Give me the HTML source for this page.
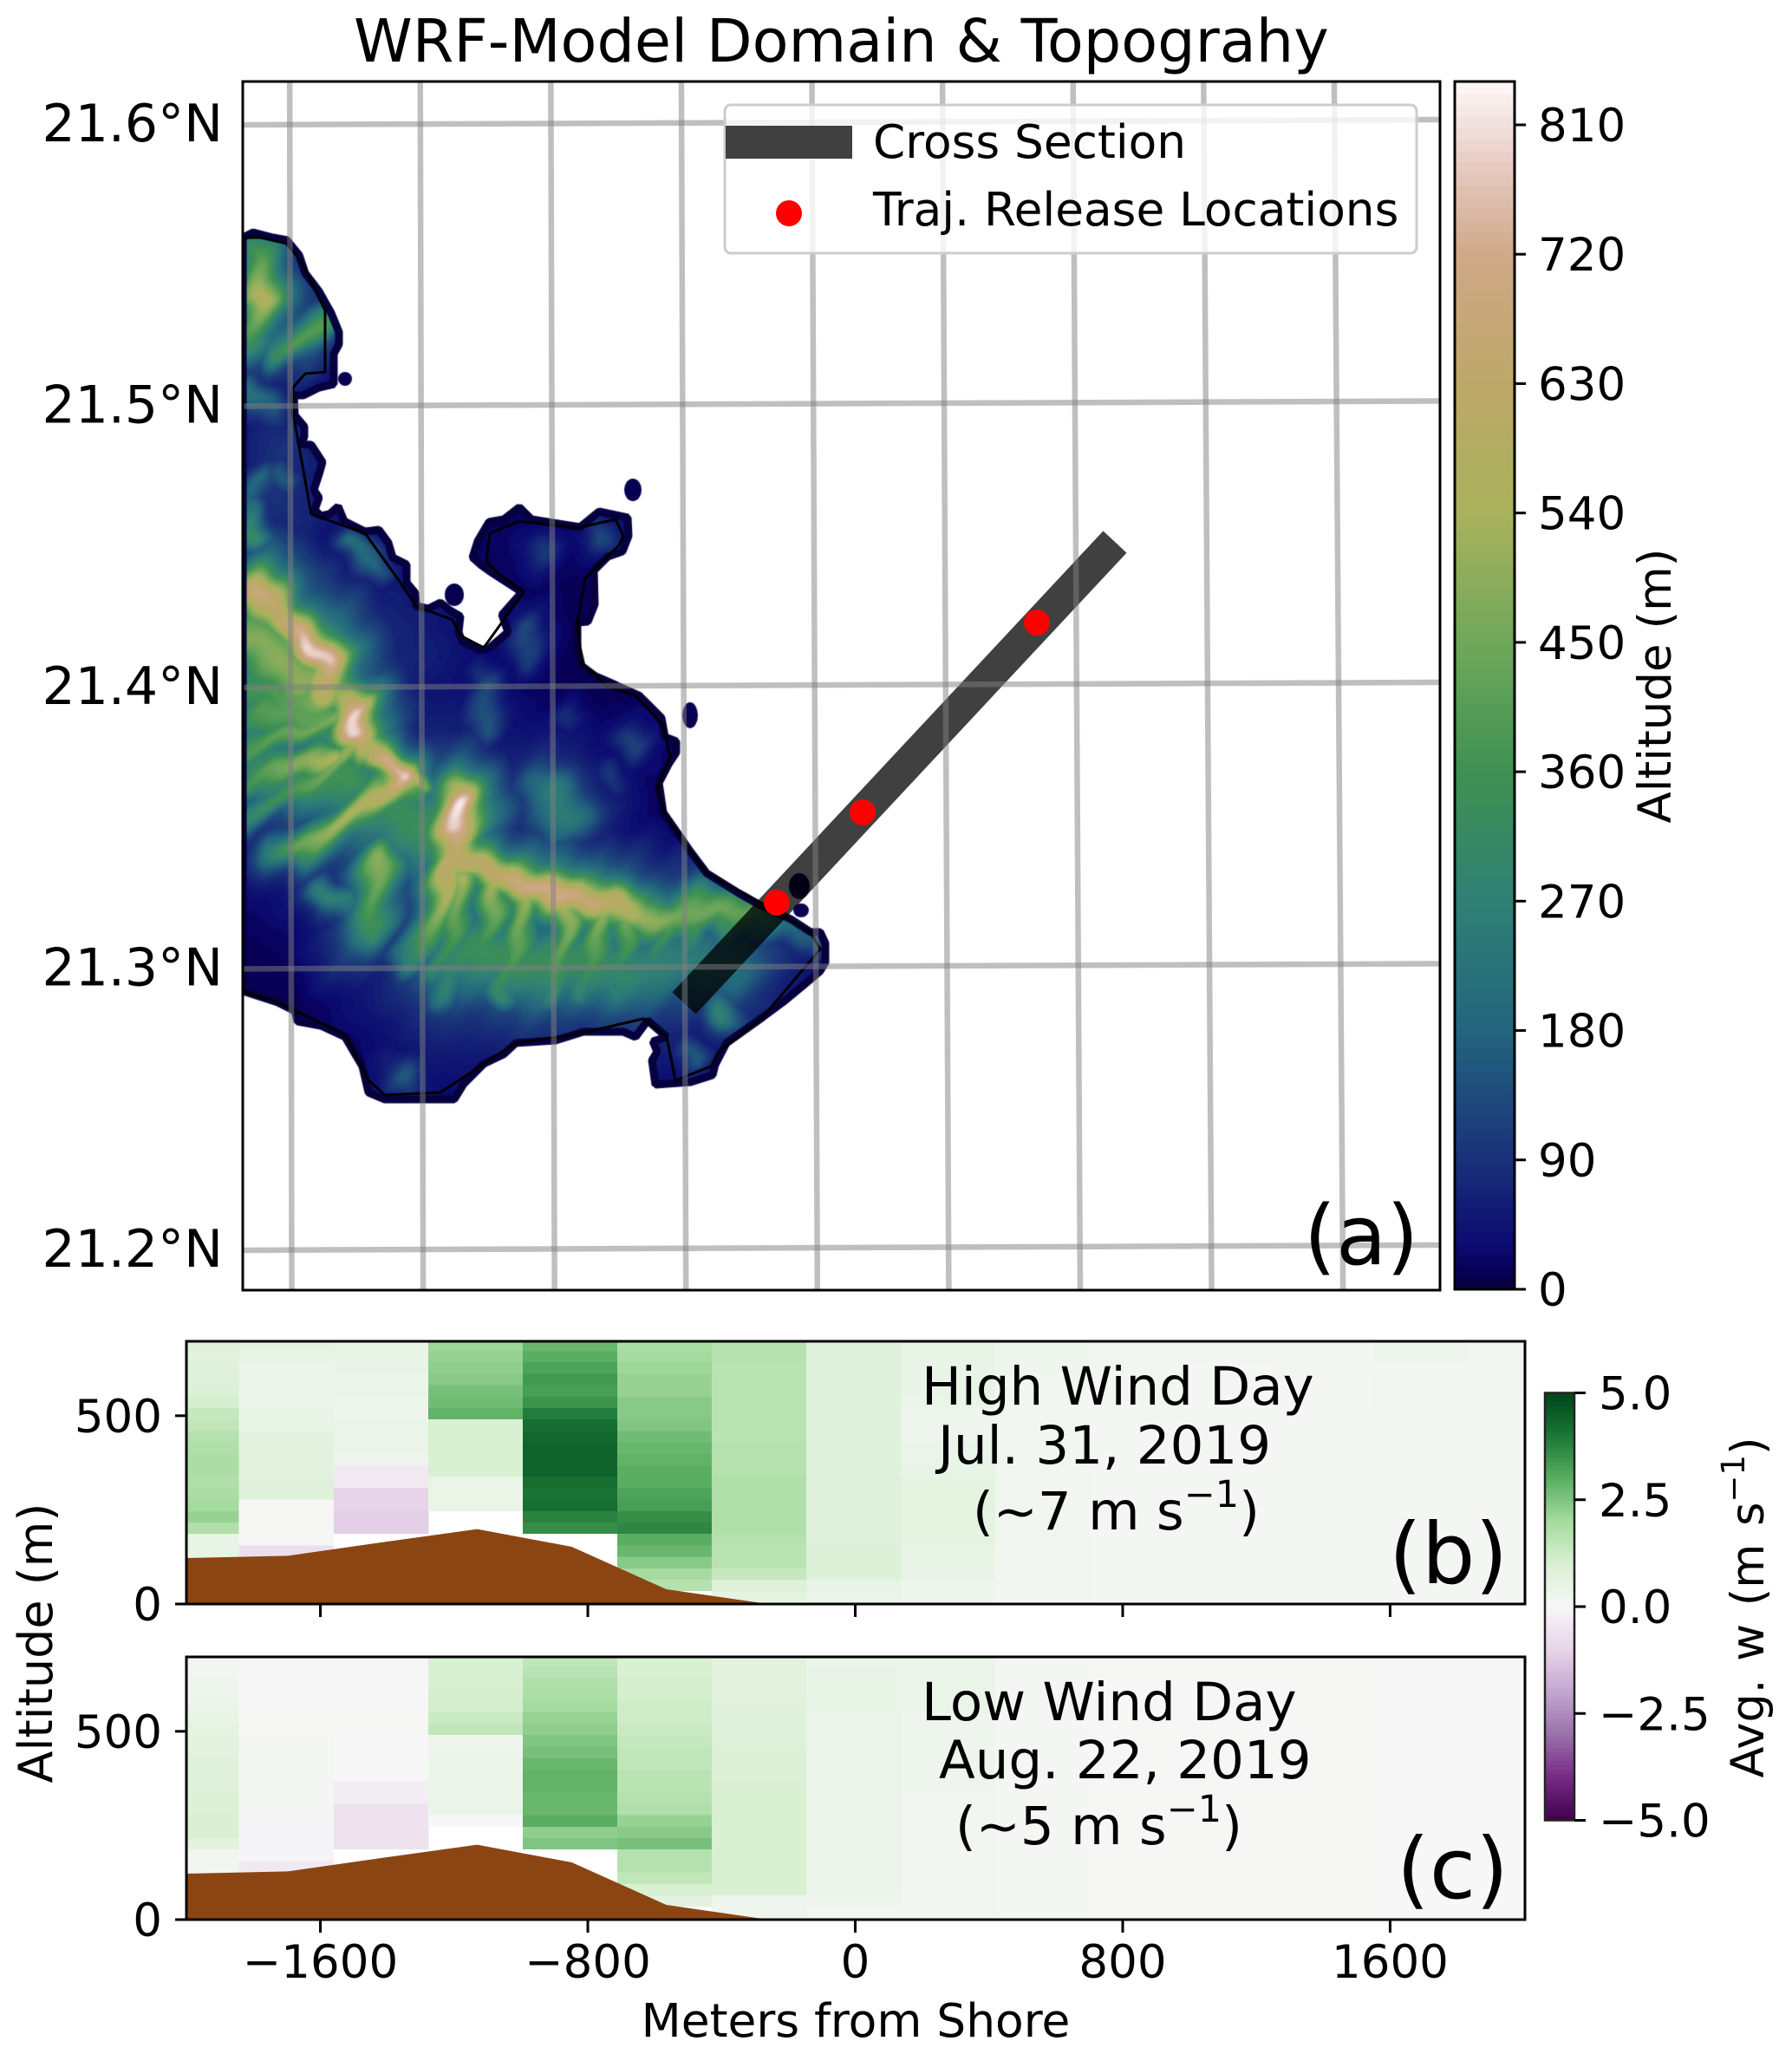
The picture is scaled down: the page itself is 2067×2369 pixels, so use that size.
<!DOCTYPE html>
<html lang="en">
<head>
<meta charset="utf-8">
<title>WRF-Model Domain &amp; Topograhy</title>
<style>
html,body{margin:0;padding:0;background:#fff;width:2067px;height:2369px;overflow:hidden}
#stage{position:relative;width:2067px;height:2369px}
#topo{position:absolute;left:280px;top:94px;width:1381px;height:1394px}
#fig{position:absolute;left:0;top:0}
text{font-family:"DejaVu Sans","Liberation Sans",sans-serif;fill:#000}
</style>
</head>
<body>
<div id="stage">
<canvas id="topo" width="1381" height="1394"></canvas>
<svg id="fig" xmlns="http://www.w3.org/2000/svg" width="2067" height="2369" viewBox="0 0 2067 2369">
  <defs>
    <clipPath id="mapClip"><rect x="280" y="94" width="1381" height="1394"/></clipPath>
    <clipPath id="clipB"><rect x="215" y="1547" width="1544" height="303"/></clipPath>
    <clipPath id="clipC"><rect x="215" y="1911" width="1544" height="303"/></clipPath>
  </defs>
  <g id="mapLayer" clip-path="url(#mapClip)"></g>
  <rect x="280" y="94" width="1381" height="1394" fill="none" stroke="#000" stroke-width="3"/>
  <g id="legend">
    <rect x="836" y="121" width="798" height="171" rx="7" fill="#fff" fill-opacity="0.8" stroke="#ccc" stroke-width="3"/>
    <rect x="837" y="145" width="146" height="38" fill="#404040"/>
    <text x="1007" y="182" font-size="53.3">Cross Section</text>
    <circle cx="910" cy="246" r="15" fill="#f00"/>
    <text x="1007" y="260" font-size="53.3">Traj. Release Locations</text>
  </g>
  <text x="408" y="71" font-size="68.5">WRF-Model Domain &amp; Topograhy</text>
  <text x="1504" y="1458" font-size="95">(a)</text>

  <g id="cbarAlt"></g>
  <text transform="translate(1927,791) rotate(-90)" text-anchor="middle" font-size="53">Altitude (m)</text>

  <g id="panelB"></g>
  <g id="panelC"></g>

  <text x="1063" y="1620" font-size="61">High Wind Day</text>
  <text x="1082" y="1688" font-size="61">Jul. 31, 2019</text>
  <text x="1122" y="1764" font-size="61">(~7 m s<tspan dy="-26" font-size="43">−1</tspan><tspan dy="26">)</tspan></text>
  <text x="1602" y="1826" font-size="97">(b)</text>

  <text x="1063" y="1984" font-size="61">Low Wind Day</text>
  <text x="1083" y="2051" font-size="61">Aug. 22, 2019</text>
  <text x="1102" y="2127" font-size="61">(~5 m s<tspan dy="-26" font-size="43">−1</tspan><tspan dy="26">)</tspan></text>
  <text x="1611" y="2189" font-size="97">(c)</text>

  <text transform="translate(60,1895) rotate(-90)" text-anchor="middle" font-size="54">Altitude (m)</text>
  <text x="987" y="2349" text-anchor="middle" font-size="53.4">Meters from Shore</text>

  <g id="cbarW"></g>
  <text transform="translate(2034,1854) rotate(-90)" text-anchor="middle" font-size="52.5" word-spacing="4">Avg. w (m s<tspan dy="-22" font-size="37">−1</tspan><tspan dy="22">)</tspan></text>
</svg>
</div>
<script>
/* ---------- map data (model-grid col,row; elevation in m) ---------- */
const latTicks = [21.6, 21.5, 21.4, 21.3, 21.2];
const lonLines = [-158.2, -158.1, -158.0, -157.9, -157.8, -157.7, -157.6, -157.5, -157.4];
const altTicks = [0, 90, 180, 270, 360, 450, 540, 630, 720, 810];
const elevStops = [0, 15, 30, 90, 180, 270, 360, 450, 540, 630, 720, 780, 840];
const elevColors = ['#05003a','#07005a','#0a0a70','#193179','#23657e','#2f8075','#3f9152','#6fa75a','#a9b25c','#bda868','#d0a888','#e6c9c0','#fdf8f8'];
const crossSection = [[1006, 531], [509, 1063]];
const releasePoints = [[916, 624], [715, 843], [616, 947]];
const coastMask = [[0,180],[12,174],[35,180],[51,183],[65,200],[72,221],[88,242],[102,267],[111,289],[111,303],[105,314],[105,349],[88,353],[70,362],[59,362],[60,385],[71,398],[71,410],[66,418],[79,419],[92,439],[88,453],[82,471],[88,480],[83,494],[90,501],[100,499],[110,490],[117,507],[141,519],[157,517],[168,532],[173,549],[189,557],[189,578],[199,590],[200,605],[214,608],[228,601],[239,610],[251,617],[249,635],[253,646],[274,656],[285,653],[306,635],[299,615],[322,589],[288,567],[274,557],[265,549],[271,530],[284,508],[301,505],[319,491],[333,505],[389,514],[411,496],[444,503],[445,524],[438,542],[421,548],[405,564],[406,603],[398,623],[386,624],[386,653],[391,674],[407,686],[430,696],[457,708],[483,734],[487,756],[500,761],[500,774],[492,786],[480,809],[485,843],[508,876],[517,889],[535,913],[572,936],[595,949],[632,966],[655,981],[666,981],[672,994],[672,1016],[666,1026],[646,1043],[623,1062],[600,1079],[558,1109],[545,1134],[542,1146],[517,1154],[476,1157],[472,1129],[478,1119],[473,1107],[489,1102],[467,1083],[453,1102],[439,1096],[393,1096],[361,1106],[315,1109],[301,1122],[278,1133],[255,1156],[244,1174],[164,1174],[145,1166],[138,1136],[118,1102],[90,1089],[63,1084],[60,1072],[40,1062],[0,1049]];
const coastLine = [[0,180],[21,180],[51,187],[67,207],[95,264],[95,335],[72,337],[58,353],[58,382],[79,499],[141,521],[177,571],[200,605],[242,621],[251,639],[278,653],[324,589],[292,565],[281,553],[285,521],[319,507],[386,515],[430,505],[439,524],[434,535],[395,573],[386,624],[391,671],[421,698],[453,708],[485,743],[493,779],[478,816],[489,849],[535,913],[623,962],[655,981],[666,1001],[600,1079],[549,1119],[540,1136],[499,1152],[489,1102],[462,1081],[384,1099],[315,1109],[228,1166],[164,1169],[145,1152],[118,1099],[40,1062],[0,1049]];
const islets = [[118,343,8,8],[450,471,10,13],[244,592,11,13],[516,731,9,15],[642,928,12,15],[644,956,9,8]];
const elevationBase = 8;
/* ridges: [sigma, [col,row,height], ...] */
const ridgeNorth = [18,[21,200,380],[14,253,570],[10,300,340]];
const ridgeNorthBranch = [12,[86,275,400],[60,300,400],[40,317,320]];
const ridgeNorthLeft = [14,[8,360,220],[26,378,170]];
const ridgeWestMid = [12,[26,460,190],[8,480,170],[8,524,320]];
const hillWest = [12,[49,457,160]];
const ridgeInner = [10,[118,531,200],[150,564,180]];
const ridgeCrestA = [18,[8,582,520],[17,590,680],[49,617,620],[76,646,800],[90,660,780],[92,682,640],[90,700,590]];
const ridgeCrestB = [14,[81,686,620],[104,705,500],[131,729,800],[134,753,800],[140,770,600]];
const plateauWest1 = [30,[10,640,480],[60,690,500]];
const plateauWest2 = [22,[20,730,400],[90,730,430]];
const plateauWest3 = [28,[20,800,330],[120,800,360]];
const plateauMid = [35,[140,830,330],[215,860,340]];
const plateauSouth = [32,[260,1005,340],[400,1020,330],[560,1015,220]];
const ridgeStripe1 = [11,[118,726,480],[60,750,440],[3,775,380]];
const ridgeStripe2 = [11,[104,773,560],[63,786,480],[0,815,360]];
const ridgeStripe3 = [11,[125,770,520],[80,800,430],[0,850,300]];
const ridgeStripe4 = [18,[0,700,360],[60,720,420],[100,700,520]];
const ridgeLink = [13,[140,760,520],[182,799,790]];
const ridgeTail = [8,[182,799,790],[205,802,520]];
const ridgeSouthwest = [13,[182,799,790],[164,819,620],[118,846,560],[67,882,430],[35,892,270]];
const ridgeKoolau = [16,[244,825,700],[244,832,830],[242,859,790],[246,886,640],[265,902,620],[301,916,640],[333,922,710],[361,936,720],[398,949,670],[432,942,600],[444,949,570],[457,962,520],[494,969,450],[540,949,450],[586,952,410]];
const spur1 = [12,[255,919,550],[223,1019,300]];
const spur2 = [12,[292,926,540],[265,1019,310]];
const spur3 = [12,[320,936,520],[301,1049,320]];
const spur4 = [12,[370,952,550],[361,1052,300]];
const spur5 = [12,[407,959,520],[395,1052,290]];
const spur6 = [12,[439,962,450],[430,1049,250]];
const spur7 = [12,[485,972,420],[471,1019,250]];
const spur8 = [12,[517,966,400],[508,1019,200]];
const spur9 = [12,[549,962,380],[545,996,180]];
const spur10 = [11,[586,966,300],[577,992,150]];
const ridgeEastEnd = [14,[586,966,300],[618,975,200],[655,990,150]];
const ridgeInland1 = [15,[164,899,500],[136,986,340]];
const ridgeInland2 = [13,[95,932,270],[115,945,250]];
const ridgeInland3 = [14,[191,1009,290],[225,950,520],[245,900,650]];
const ridgeInland4 = [13,[232,1052,270],[255,1000,280]];
const hillNE1 = [20,[347,816,260],[370,852,250]];
const hillNE2 = [13,[283,749,150],[274,709,130]];
const hillNE3 = [13,[453,759,120]];
const hillNE4 = [13,[421,799,100]];
const hillNE5 = [11,[375,736,80]];
const hillNW1 = [13,[338,539,100]];
const hillNW2 = [13,[411,524,130]];
const hillNW3 = [11,[333,624,130],[320,660,110]];
const hillNW4 = [11,[274,696,140]];
const hillSE = [14,[554,1069,280]];
const hillSE2 = [12,[512,1126,160]];
const hillSouth = [14,[182,1146,160]];
const lowWest1 = [60,[170,640,70]];
const lowWest2 = [40,[40,480,90]];
const lowWest3 = [35,[40,430,90]];
const lowSouth = [40,[200,1120,40]];
const lowCentral = [30,[330,750,30]];
const lowEast = [22,[600,1040,50]];
const lowEast2 = [25,[500,1080,60]];
const ridges = [ridgeNorth,ridgeNorthBranch,ridgeNorthLeft,ridgeWestMid,hillWest,ridgeInner,plateauWest1,plateauWest2,plateauWest3,plateauMid,plateauSouth,ridgeCrestA,ridgeCrestB,ridgeStripe1,ridgeStripe2,ridgeStripe3,ridgeStripe4,ridgeLink,ridgeTail,ridgeSouthwest,ridgeKoolau,spur1,spur2,spur3,spur4,spur5,spur6,spur7,spur8,spur9,spur10,ridgeEastEnd,ridgeInland1,ridgeInland2,ridgeInland3,ridgeInland4,hillNE1,hillNE2,hillNE3,hillNE4,hillNE5,hillNW1,hillNW2,hillNW3,hillNW4,hillSE,hillSE2,hillSouth,lowWest1,lowWest2,lowWest3,lowSouth,lowCentral,lowEast,lowEast2];

/* ---------- cross-section data ---------- */
const xTicks = [-1600, -800, 0, 800, 1600];
const yTicks = [0, 500];
const wTicks = [-5, -2.5, 0, 2.5, 5];
const columnCenters = [-1984,-1702,-1419,-1136,-853,-571,-288,-5,278,560,843,1126,1408,1691,1974];
const levelCenters = [20,51,81,111,142,172,203,233,263,294,324,355,385,415,446,476,507,537,567,598,628,659,689];
const terrainX = [-2000,-1697,-1414,-1131,-848,-565,-283,0,283,2000];
const terrainAlt = [122,128,164,199,152,39,3,0,0,0];
const _ = null;
const wHigh = [
 [0.5,0.5,0.5,0.5,0.5,0.5,1.8,2.2,2.0,1.9,1.8,1.9,1.9,1.8,1.7,1.5,1.4,1.1,0.9,0.8,0.8,0.7,0.8],
 [_,_,_,_,-0.7,0.05,0.05,0.05,0.05,0.8,0.8,0.7,0.7,0.7,0.7,0.5,0.5,0.4,0.4,0.4,0.4,0.5,0.6],
 [_,_,_,_,_,_,-1.1,-1.1,-1.0,-1.0,-0.4,-0.4,0.3,0.4,0.4,0.4,0.3,0.3,0.4,0.4,0.5,0.5,0.5],
 [_,_,_,_,_,_,_,_,0.45,0.45,0.45,1.0,1.0,1.0,1.0,1.0,2.9,2.7,2.6,2.4,2.3,2.2,2.1],
 [_,_,_,_,_,_,3.6,3.8,4.2,4.1,4.2,4.4,4.4,4.4,4.3,4.2,3.9,3.5,3.3,3.4,3.2,3.0,2.8],
 [_,1.7,2.0,2.4,2.8,3.0,3.7,3.6,3.3,3.2,3.0,3.0,2.9,2.8,2.7,2.5,2.4,2.4,2.2,2.2,2.1,2.0,1.9],
 [0.6,0.9,1.4,1.6,1.6,1.7,1.8,1.8,1.8,1.8,1.8,1.7,1.7,1.7,1.6,1.6,1.6,1.6,1.6,1.6,1.6,1.7,1.7],
 [0.4,0.5,0.9,0.9,0.9,0.8,0.8,0.8,0.8,0.8,0.8,0.8,0.8,0.8,0.8,0.8,0.8,0.8,0.8,0.8,0.8,0.8,0.8],
 [0.3,0.3,0.5,0.5,0.5,0.6,0.6,0.6,0.6,0.6,0.6,0.5,0.4,0.4,0.3,0.3,0.3,0.4,0.5,0.5,0.5,0.5,0.5],
 [0.2,0.2,0.2,0.2,0.2,0.2,0.2,0.2,0.2,0.2,0.2,0.2,0.2,0.2,0.2,0.2,0.2,0.2,0.2,0.2,0.3,0.3,0.3],
 [0.1,0.1,0.15,0.15,0.15,0.15,0.15,0.15,0.15,0.15,0.15,0.15,0.15,0.15,0.15,0.15,0.2,0.2,0.2,0.2,0.2,0.2,0.2],
 [0.1,0.1,0.1,0.15,0.15,0.15,0.15,0.15,0.15,0.15,0.15,0.15,0.15,0.15,0.15,0.15,0.15,0.15,0.15,0.15,0.15,0.2,0.2],
 [0.1,0.1,0.1,0.15,0.15,0.15,0.15,0.15,0.15,0.15,0.15,0.15,0.15,0.15,0.15,0.15,0.15,0.15,0.15,0.15,0.2,0.2,0.2],
 [0.1,0.1,0.1,0.1,0.1,0.15,0.15,0.15,0.15,0.15,0.15,0.15,0.15,0.15,0.15,0.15,0.15,0.2,0.2,0.2,0.2,0.3,0.3],
 [0.1,0.1,0.1,0.1,0.1,0.15,0.15,0.15,0.15,0.15,0.15,0.15,0.15,0.15,0.15,0.15,0.15,0.15,0.2,0.2,0.2,0.2,0.2]
];
const wLow = [
 [0.2,0.2,0.2,0.2,0.2,0.2,0.7,1.0,1.0,0.9,0.9,0.8,0.8,0.8,0.7,0.7,0.6,0.5,0.4,0.3,0.3,0.2,0.2],
 [_,_,_,_,-0.4,-0.1,-0.1,-0.1,-0.05,0.1,0.1,0.15,0.15,0.1,0.1,0.1,0.05,0.05,0.0,0.0,0.0,0.0,0.0],
 [_,_,_,_,_,_,-0.6,-0.6,-0.6,-0.6,-0.3,-0.3,0.0,0.0,0.0,0.0,0.05,0.05,0.0,0.0,0.0,0.0,0.05],
 [_,_,_,_,_,_,_,_,0.0,0.4,0.4,0.4,0.4,0.4,0.3,0.3,1.5,1.3,1.1,1.1,1.0,1.0,1.0],
 [_,_,_,_,_,_,2.5,2.3,3.0,2.8,2.8,2.9,2.9,2.8,2.6,2.5,2.3,2.2,2.0,1.9,1.8,1.6,1.5],
 [_,0.7,1.0,1.5,1.7,1.7,2.6,2.4,2.2,1.8,1.7,1.6,1.6,1.5,1.5,1.4,1.3,1.2,1.2,1.1,1.1,1.0,1.0],
 [0.3,0.3,1.0,1.0,1.0,1.0,1.0,1.0,1.0,1.0,1.0,1.0,0.9,0.9,0.9,0.8,0.8,0.8,0.8,0.7,0.7,0.7,0.7],
 [0.2,0.3,0.4,0.4,0.4,0.4,0.4,0.4,0.4,0.4,0.4,0.4,0.4,0.4,0.4,0.4,0.4,0.4,0.5,0.5,0.5,0.5,0.4],
 [0.2,0.2,0.2,0.2,0.2,0.2,0.2,0.2,0.2,0.2,0.2,0.3,0.3,0.3,0.3,0.3,0.3,0.3,0.4,0.4,0.4,0.4,0.4],
 [0.1,0.1,0.1,0.1,0.1,0.1,0.1,0.1,0.1,0.1,0.1,0.1,0.1,0.1,0.1,0.1,0.1,0.1,0.1,0.1,0.1,0.1,0.1],
 [0.05,0.05,0.05,0.05,0.05,0.05,0.05,0.05,0.05,0.05,0.05,0.05,0.05,0.05,0.05,0.05,0.05,0.05,0.05,0.05,0.05,0.05,0.05],
 [0.05,0.05,0.05,0.05,0.05,0.05,0.05,0.05,0.05,0.05,0.05,0.05,0.05,0.05,0.05,0.05,0.05,0.05,0.05,0.05,0.05,0.05,0.05],
 [0.05,0.05,0.05,0.05,0.05,0.05,0.05,0.05,0.05,0.05,0.05,0.05,0.05,0.05,0.05,0.05,0.05,0.05,0.05,0.05,0.05,0.05,0.05],
 [0.0,0.0,0.0,0.0,0.0,0.0,0.0,0.0,0.0,0.0,0.0,0.0,0.0,0.0,0.0,0.0,0.0,0.0,0.0,0.0,0.0,0.0,0.0],
 [0.0,0.0,0.0,0.0,0.0,0.0,0.0,0.0,0.0,0.0,0.0,0.0,0.0,0.0,0.0,0.0,0.0,0.0,0.0,0.0,0.0,0.0,0.0]
];
const prgnStops = ['#40004b','#762a83','#9970ab','#c2a5cf','#e7d4e8','#f7f7f7','#d9f0d3','#a6dba0','#5aae61','#1b7837','#00441b'];

/* ---------- scales ---------- */
const NS = 'http://www.w3.org/2000/svg';
const colX = c => 280 + c;
const rowY = r => 94 + r;
const latY = lat => 1117.5 - (lat - 21.3) * 3245;
const lonX = lon => 334.4 + (lon + 158.2) * 1507;
const lonTilt = lon => 0.0017 + (lon + 158.2) * 0.007;
const metersX = m => 986.5 + m * 0.3856;
const altScale = v => 1487 - v * (1343 / 810);
const wScale = v => 1853 - v * 49.3;
function hexRgb(h){return [parseInt(h.slice(1,3),16),parseInt(h.slice(3,5),16),parseInt(h.slice(5,7),16)];}
function lerpStops(stops,cols,v){
  if(v<=stops[0])return hexRgb(cols[0]);
  for(let i=1;i<stops.length;i++){
    if(v<=stops[i]){
      const t=(v-stops[i-1])/(stops[i]-stops[i-1]);
      const a=hexRgb(cols[i-1]),b=hexRgb(cols[i]);
      return [a[0]+(b[0]-a[0])*t,a[1]+(b[1]-a[1])*t,a[2]+(b[2]-a[2])*t];
    }
  }
  return hexRgb(cols[cols.length-1]);
}
const prgnPositions = [-5,-4,-3,-2,-1,0,1,2,3,4,5];
function rgbStr(c){return 'rgb('+Math.round(c[0])+','+Math.round(c[1])+','+Math.round(c[2])+')';}
const elevColor = v => lerpStops(elevStops,elevColors,v);
const wColor = v => rgbStr(lerpStops(prgnPositions,prgnStops,v));
function svgEl(tag,attrs,parent){
  const el=document.createElementNS(NS,tag);
  for(const k in attrs)el.setAttribute(k,attrs[k]);
  parent.appendChild(el);
  return el;
}
function ptsStr(list){return list.map(p=>colX(p[0])+','+rowY(p[1])).join(' ');}

/* ---------- topography raster ---------- */
(function drawTopography(){
  const cell=3, W=Math.ceil(1381/cell), H=Math.ceil(1394/cell);
  const off=document.createElement('canvas');off.width=W;off.height=H;
  const octx=off.getContext('2d');const img=octx.createImageData(W,H);
  const segs=[];
  ridges.forEach(r=>{
    const s=r[0];
    if(r.length===2){segs.push([r[1][0],r[1][1],r[1][2],r[1][0],r[1][1],r[1][2],s]);return;}
    for(let i=1;i<r.length-1;i++){const a=r[i],b=r[i+1];segs.push([a[0],a[1],a[2],b[0],b[1],b[2],s]);}
  });
  for(let j=0;j<H;j++){
    const y0=j*cell;
    for(let i=0;i<W;i++){
      const x0=i*cell;
      let e=elevationBase;
      if(y0>160&&y0<1190&&x0<700){
        const x=x0+6*Math.sin(y0/23)+4*Math.sin(y0/9+x0/17);
        const y=y0+5*Math.sin(x0/19)+3*Math.sin(x0/7+y0/13);
        for(let k=0;k<segs.length;k++){
          const q=segs[k];
          const dx=q[3]-q[0],dy=q[4]-q[1];
          const len=dx*dx+dy*dy;
          let t=len>0?((x-q[0])*dx+(y-q[1])*dy)/len:0;
          t=t<0?0:t>1?1:t;
          const px=q[0]+dx*t-x,py=q[1]+dy*t-y;
          const d2=px*px+py*py;
          const s=q[6];
          if(d2>100*s*s)continue;
          const h=q[2]+(q[5]-q[2])*t;
          const v=h*(0.65*Math.exp(-d2/(2*s*s))+0.35*Math.exp(-d2/(18*s*s)));
          if(v>e)e=v;
        }
      }
      const lv=Math.floor(e/8)*8+4;
      const c=elevColor(lv);
      const o=(j*W+i)*4;
      img.data[o]=c[0];img.data[o+1]=c[1];img.data[o+2]=c[2];img.data[o+3]=255;
    }
  }
  octx.putImageData(img,0,0);
  const cv=document.getElementById('topo');
  const ctx=cv.getContext('2d');
  const tracePath=()=>{
    ctx.beginPath();
    coastMask.forEach((p,i)=>{if(i)ctx.lineTo(p[0],p[1]);else ctx.moveTo(p[0],p[1]);});
    ctx.closePath();
  };
  ctx.save();
  tracePath();
  ctx.clip();
  ctx.imageSmoothingEnabled=true;
  ctx.imageSmoothingQuality='high';
  ctx.drawImage(off,0,0,W*cell,H*cell);
  ctx.restore();
  tracePath();
  ctx.strokeStyle='#06003f';
  ctx.lineWidth=9;
  ctx.lineJoin='bevel';
  ctx.stroke();
  ctx.fillStyle='#070050';
  islets.forEach(d=>{ctx.beginPath();ctx.ellipse(d[0],d[1],d[2],d[3],0,0,Math.PI*2);ctx.fill();});
})();

/* ---------- map overlays ---------- */
(function drawMap(){
  const g=document.getElementById('mapLayer');
  const coast=svgEl('polyline',{points:ptsStr(coastLine),fill:'none',stroke:'#000','stroke-width':3},g);
  
  
  const rib=svgEl('line',{x1:colX(crossSection[0][0]),y1:rowY(crossSection[0][1]),x2:colX(crossSection[1][0]),y2:rowY(crossSection[1][1]),stroke:'#000','stroke-opacity':0.75,'stroke-width':37},g);
  
  
  latTicks.forEach(lat=>{
    const y=latY(lat);
    const l=svgEl('line',{x1:280,y1:y,x2:1661,y2:y-6,stroke:'#808080','stroke-opacity':0.5,'stroke-width':6.5},g);
    
    
  });
  lonLines.forEach(lon=>{
    const x=lonX(lon), tilt=lonTilt(lon);
    const l=svgEl('line',{x1:x+(94-240)*tilt,y1:94,x2:x+(1488-240)*tilt,y2:1488,stroke:'#808080','stroke-opacity':0.5,'stroke-width':6.5},g);
    
    
  });
  releasePoints.forEach(p=>{
    const c=svgEl('circle',{cx:colX(p[0]),cy:rowY(p[1]),r:15,fill:'#f00'},g);
    
    
  });
  const fig=document.getElementById('fig');
  latTicks.forEach(lat=>{
    const t=svgEl('text',{x:257,y:latY(lat)+19,'text-anchor':'end','font-size':60},fig);
    t.textContent=lat.toFixed(1)+'°N';
    
    
  });
})();

/* ---------- altitude colorbar ---------- */
(function drawAltBar(){
  const g=document.getElementById('cbarAlt');
  for(let v=0;v<840;v+=8){
    const top=altScale(Math.min(v+8,840));
    const r=svgEl('rect',{x:1679,y:top,width:68,height:altScale(v)-top+0.6,fill:rgbStr(elevColor(v+4))},g);
    
    
  }
  const f=svgEl('rect',{x:1678,y:94,width:69,height:1393,fill:'none',stroke:'#000','stroke-width':3},g);
  
  
  altTicks.forEach(v=>{
    const y=altScale(v);
    const l=svgEl('line',{x1:1747,y1:y,x2:1760,y2:y,stroke:'#000','stroke-width':3},g);
    
    
    const t=svgEl('text',{x:1774,y:y+19,'font-size':53},g);
    t.textContent=String(v);
    
    
  });
})();

/* ---------- cross-section panels ---------- */
function drawPanel(id,top,clip,matrix,showLabels){
  const g=document.getElementById(id);
  const bottom=top+303;
  const altY=a=>bottom-a*0.4343;
  const cells=svgEl('g',{'clip-path':'url(#'+clip+')','shape-rendering':'crispEdges'},g);
  
  
  const halfW=141.4, halfH=15.2;
  matrix.forEach((col,ci)=>{
    col.forEach((v,ri)=>{
      if(v===null)return;
      const x0=metersX(columnCenters[ci]-halfW), x1=metersX(columnCenters[ci]+halfW);
      const y0=altY(levelCenters[ri]+halfH), y1=altY(levelCenters[ri]-halfH);
      const r=svgEl('rect',{x:x0.toFixed(1),y:y0.toFixed(1),width:(x1-x0+0.5).toFixed(1),height:(y1-y0+0.5).toFixed(1),fill:wColor(v)},cells);
      
      
    });
  });
  let pts=metersX(terrainX[0])+','+bottom;
  terrainX.forEach((m,i)=>{pts+=' '+metersX(m)+','+altY(terrainAlt[i]);});
  pts+=' '+metersX(terrainX[terrainX.length-1])+','+bottom;
  const ter=svgEl('polygon',{points:pts,fill:'#8b4513','clip-path':'url(#'+clip+')'},g);
  
  
  const frame=svgEl('rect',{x:215,y:top,width:1544,height:303,fill:'none',stroke:'#000','stroke-width':3},g);
  
  
  xTicks.forEach(m=>{
    const x=metersX(m);
    const l=svgEl('line',{x1:x,y1:bottom,x2:x,y2:bottom+15,stroke:'#000','stroke-width':3},g);
    
    
    if(showLabels){
      const t=svgEl('text',{x:x,y:2281,'text-anchor':'middle','font-size':53},g);
      t.textContent=(m<0?'−':'')+Math.abs(m);
      
      
    }
  });
  yTicks.forEach(a=>{
    const y=altY(a);
    const l=svgEl('line',{x1:202,y1:y,x2:215,y2:y,stroke:'#000','stroke-width':3},g);
    
    
    const t=svgEl('text',{x:187,y:y+19,'text-anchor':'end','font-size':53},g);
    t.textContent=String(a);
    
    
  });
}
drawPanel('panelB',1547,'clipB',wHigh,false);
drawPanel('panelC',1911,'clipC',wLow,true);

/* ---------- w colorbar ---------- */
(function drawWBar(){
  const g=document.getElementById('cbarW');
  for(let v=-5;v<4.95;v+=0.1){
    const top=wScale(v+0.1);
    const r=svgEl('rect',{x:1783,y:top,width:33,height:wScale(v)-top+0.6,fill:wColor(v+0.05)},g);
    
    
  }
  const f=svgEl('rect',{x:1782,y:wScale(5),width:34,height:wScale(-5)-wScale(5),fill:'none',stroke:'#222','stroke-width':2.5},g);
  
  
  wTicks.forEach(v=>{
    const y=wScale(v);
    const l=svgEl('line',{x1:1816,y1:y,x2:1829,y2:y,stroke:'#000','stroke-width':3},g);
    
    
    const t=svgEl('text',{x:1844,y:y+19,'font-size':53},g);
    t.textContent=(v<0?'−':'')+Math.abs(v).toFixed(1);
    
    
  });
})();
</script>
</body>
</html>
